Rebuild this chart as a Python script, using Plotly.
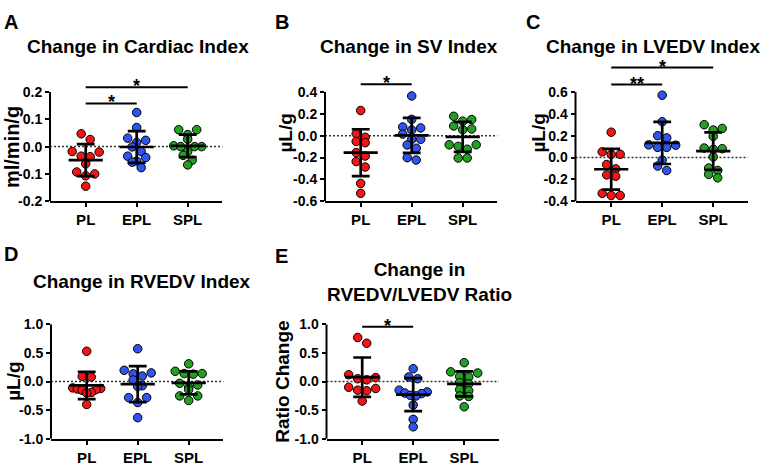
import numpy as np
import plotly.graph_objects as go

W, H = 770, 470
FONT = "Liberation Sans, Arial, Helvetica, sans-serif"

# ---------------- data ----------------
GROUPS = ["PL", "EPL", "SPL"]
GROUP_COLORS = ["#f41414", "#2f55ee", "#22a022"]

# A: Change in Cardiac Index (ml/min/g)
A_PL = [0.047, 0.026, -0.018, -0.020, -0.035, -0.037, -0.063, -0.093, -0.100, -0.107, -0.145]
A_EPL = [0.125, 0.070, 0.031, 0.023, 0.015, -0.001, -0.018, -0.035, -0.040, -0.053, -0.057, -0.077]
A_SPL = [0.062, 0.062, 0.044, 0.027, 0.003, 0.000, 0.000, 0.000, -0.018, -0.032, -0.050, -0.067]
A_YTICKS = [-0.2, -0.1, 0.0, 0.1, 0.2]
A_YTICKTEXT = ["-0.2", "-0.1", "0.0", "0.1", "0.2"]
A_SIG = [(0, 2, 0.218, "*"), (0, 1, 0.158, "*")]

# B: Change in SV Index (uL/g)
B_PL = [0.231, 0.018, -0.015, -0.053, -0.064, -0.155, -0.186, -0.237, -0.287, -0.437, -0.528]
B_EPL = [0.364, 0.150, 0.080, 0.071, 0.053, 0.015, -0.033, -0.033, -0.085, -0.115, -0.201, -0.223]
B_SPL = [0.178, 0.148, 0.133, 0.089, 0.062, 0.055, -0.083, -0.083, -0.098, -0.124, -0.204, -0.204]
B_YTICKS = [-0.6, -0.4, -0.2, 0.0, 0.2, 0.4]
B_YTICKTEXT = ["-0.6", "-0.4", "-0.2", "0.0", "0.2", "0.4"]
B_SIG = [(0, 1, 0.471, "*")]

# C: Change in LVEDV Index (uL/g)
C_PL = [0.232, 0.052, 0.029, 0.029, -0.064, -0.104, -0.159, -0.171, -0.328, -0.348, -0.348]
C_EPL = [0.571, 0.328, 0.200, 0.180, 0.116, 0.113, 0.093, 0.093, -0.023, -0.078, -0.119]
C_SPL = [0.301, 0.267, 0.252, 0.194, 0.087, 0.081, 0.075, 0.006, -0.096, -0.119, -0.154, -0.186]
C_YTICKS = [-0.4, -0.2, 0.0, 0.2, 0.4, 0.6]
C_YTICKTEXT = ["-0.4", "-0.2", "0.0", "0.2", "0.4", "0.6"]
C_SIG = [(0, 2, 0.824, "*"), (0, 1, 0.668, "**")]

# D: Change in RVEDV Index (uL/g)
D_PL = [0.53, 0.09, 0.08, -0.11, -0.12, -0.13, -0.14, -0.15, -0.19, -0.20, -0.40]
D_EPL = [0.574, 0.197, 0.152, 0.135, 0.096, 0.028, -0.073, -0.084, -0.28, -0.28, -0.366, -0.63]
D_SPL = [0.31, 0.18, 0.14, 0.14, 0.13, -0.03, -0.06, -0.10, -0.14, -0.25, -0.25, -0.33]
D_YTICKS = [-1.0, -0.5, 0.0, 0.5, 1.0]
D_YTICKTEXT = ["-1.0", "-0.5", "0.0", "0.5", "1.0"]
D_SIG = []

# E: Change in RVEDV/LVEDV Ratio
E_PL = [0.77, 0.67, 0.12, 0.07, 0.05, 0.03, -0.10, -0.12, -0.15, -0.16, -0.34]
E_EPL = [0.225, 0.08, 0.05, -0.15, -0.18, -0.20, -0.21, -0.24, -0.25, -0.41, -0.66, -0.79]
E_SPL = [0.33, 0.17, 0.15, 0.09, 0.08, -0.02, -0.04, -0.14, -0.16, -0.25, -0.26, -0.44]
E_YTICKS = [-1.0, -0.5, 0.0, 0.5, 1.0]
E_YTICKTEXT = ["-1.0", "-0.5", "0.0", "0.5", "1.0"]
E_SIG = [(0, 1, 0.96, "*")]

# ---------------- layout specs ----------------
panels = [
    dict(letter="A", title="Change in Cardiac Index", ytitle="ml/min/g",
         values=[A_PL, A_EPL, A_SPL], yticks=A_YTICKS, ytext=A_YTICKTEXT, sig=A_SIG,
         x0=50, tick_top=87, bottom=200, dom_top=72,
         title_xy=(137.5, 40), letter_xy=(10.5, 15), ytitle_xy=(12, 144), ytitle_size=20),
    dict(letter="B", title="Change in SV Index", ytitle="µL/g",
         values=[B_PL, B_EPL, B_SPL], yticks=B_YTICKS, ytext=B_YTICKTEXT, sig=B_SIG,
         x0=325, tick_top=87, bottom=200, dom_top=72,
         title_xy=(408.5, 40), letter_xy=(282, 15), ytitle_xy=(286, 130), ytitle_size=19),
    dict(letter="C", title="Change in LVEDV Index", ytitle="µL/g",
         values=[C_PL, C_EPL, C_SPL], yticks=C_YTICKS, ytext=C_YTICKTEXT, sig=C_SIG,
         x0=575.5, tick_top=87, bottom=200, dom_top=55,
         title_xy=(652.5, 40), letter_xy=(533, 15), ytitle_xy=(539, 130), ytitle_size=19),
    dict(letter="D", title="Change in RVEDV Index", ytitle="µL/g",
         values=[D_PL, D_EPL, D_SPL], yticks=D_YTICKS, ytext=D_YTICKTEXT, sig=D_SIG,
         x0=51, tick_top=327.5, bottom=446, dom_top=327.5,
         title_xy=(142, 283.5), letter_xy=(10.5, 255), ytitle_xy=(14, 387), ytitle_size=19),
    dict(letter="E", title="Change in<br>RVEDV/LVEDV Ratio", ytitle="Ratio Change",
         values=[E_PL, E_EPL, E_SPL], yticks=E_YTICKS, ytext=E_YTICKTEXT, sig=E_SIG,
         x0=326.5, tick_top=327.5, bottom=446, dom_top=327.5,
         title_xy=(420, 283.5), letter_xy=(281, 257), ytitle_xy=(283, 387), ytitle_size=19),
]

CAT_PX = 51.0
XR = [-0.7, 2.68]
AX_W = (XR[1] - XR[0]) * CAT_PX
MEAN_HALF = 0.335
CAP_HALF = 0.175


def swarm_offsets(vals, ppu, row_px=6.0, step_px=9.0, max_w=28.0):
    """GraphPad-like horizontal spreading of points that share a row."""
    order = sorted(range(len(vals)), key=lambda i: -vals[i])
    rows, cur = [], []
    for i in order:
        if cur and (vals[cur[0]] - vals[i]) * ppu >= row_px:
            rows.append(cur)
            cur = []
        cur.append(i)
    if cur:
        rows.append(cur)
    offs = [0.0] * len(vals)
    for row in rows:
        n = len(row)
        step = step_px if n < 2 else min(step_px, max_w / (n - 1))
        slots = [(k - (n - 1) / 2) * step for k in range(n)]
        slot_order = []
        lft, rgt = 0, n - 1
        while lft <= rgt:
            slot_order.append(lft)
            if lft != rgt:
                slot_order.append(rgt)
            lft += 1
            rgt -= 1
        for idx, s in zip(row, slot_order):
            offs[idx] = slots[s] / CAT_PX
    return offs


fig = go.Figure()
annotations = []
shapes = []
layout_axes = {}

for n, p in enumerate(panels, start=1):
    sfx = "" if n == 1 else str(n)
    xa, ya = "x" + sfx, "y" + sfx
    lo, hi = p["yticks"][0], p["yticks"][-1]
    ppu = (p["bottom"] - p["tick_top"]) / (hi - lo)
    hi_ext = hi + (p["tick_top"] - p["dom_top"]) / ppu

    for gi, (vals, col) in enumerate(zip(p["values"], GROUP_COLORS)):
        offs = swarm_offsets(vals, ppu)
        fig.add_trace(go.Scatter(
            x=[gi + o for o in offs], y=vals, mode="markers",
            marker=dict(size=8.5, color=col, line=dict(color="black", width=1)),
            xaxis=xa, yaxis=ya, showlegend=False, hoverinfo="skip", cliponaxis=False))

    for gi, vals in enumerate(p["values"]):
        m = float(np.mean(vals))
        sd = float(np.std(vals, ddof=1))
        xs = [gi - MEAN_HALF, gi + MEAN_HALF, None, gi, gi, None,
              gi - CAP_HALF, gi + CAP_HALF, None, gi - CAP_HALF, gi + CAP_HALF]
        ys = [m, m, None, m - sd, m + sd, None, m + sd, m + sd, None, m - sd, m - sd]
        fig.add_trace(go.Scatter(
            x=xs, y=ys, mode="lines", line=dict(color="black", width=2.7),
            xaxis=xa, yaxis=ya, showlegend=False, hoverinfo="skip"))

    layout_axes["xaxis" + sfx] = dict(
        domain=[p["x0"] / W, (p["x0"] + AX_W) / W], range=XR, anchor=ya,
        tickvals=[0, 1, 2], ticktext=GROUPS, showline=True, linewidth=2,
        linecolor="black", ticks="outside", ticklen=4, tickwidth=2, tickcolor="black",
        showgrid=False, zeroline=False, fixedrange=True,
        tickfont=dict(family=FONT, size=15, color="black", weight="bold"))
    layout_axes["yaxis" + sfx] = dict(
        domain=[1 - p["bottom"] / H, 1 - p["dom_top"] / H], range=[lo, hi_ext], anchor=xa,
        tickvals=p["yticks"], ticktext=p["ytext"], showline=False,
        ticks="outside", ticklen=4, tickwidth=2, tickcolor="black",
        showgrid=False, zeroline=False, fixedrange=True,
        tickfont=dict(family=FONT, size=14, color="black", weight="bold"))

    shapes.append(dict(type="line", xref=xa + " domain", x0=0, x1=0, yref=ya,
                       y0=lo, y1=hi, line=dict(color="black", width=2), layer="above"))
    shapes.append(dict(type="line", xref=xa + " domain", x0=0, x1=1, yref=ya,
                       y0=0, y1=0, line=dict(color="#333333", width=1.5, dash="2px,2px"),
                       layer="below"))
    for a, b, h, star in p["sig"]:
        shapes.append(dict(type="line", xref=xa, yref=ya, x0=a, x1=b, y0=h, y1=h,
                           line=dict(color="black", width=2), layer="above"))
        annotations.append(dict(x=(a + b) / 2, y=h, xref=xa, yref=ya, text="<b>" + star + "</b>",
                                showarrow=False, yanchor="middle", xanchor="center", yshift=1,
                                font=dict(family=FONT, size=18, color="black")))

    tx, ty = p["title_xy"]
    annotations.append(dict(x=tx / W, y=1 - ty / H, xref="paper", yref="paper",
                            text="<b>" + p["title"] + "</b>", showarrow=False,
                            xanchor="center", yanchor="middle",
                            font=dict(family=FONT, size=19, color="black")))
    lx, ly = p["letter_xy"]
    annotations.append(dict(x=lx / W, y=1 - ly / H, xref="paper", yref="paper",
                            text="<b>" + p["letter"] + "</b>", showarrow=False,
                            xanchor="center", yanchor="middle",
                            font=dict(family=FONT, size=20, color="black")))
    yx, yy = p["ytitle_xy"]
    annotations.append(dict(x=yx / W, y=1 - yy / H, xref="paper", yref="paper",
                            text="<b>" + p["ytitle"] + "</b>", showarrow=False, textangle=-90,
                            xanchor="center", yanchor="middle",
                            font=dict(family=FONT, size=p["ytitle_size"], color="black")))

fig.update_layout(
    width=W, height=H, autosize=False,
    margin=dict(l=0, r=0, t=0, b=0),
    paper_bgcolor="white", plot_bgcolor="white",
    showlegend=False, annotations=annotations, shapes=shapes,
    **layout_axes)

fig.write_html(
    "out.html",
    config={"displayModeBar": False, "staticPlot": True},
    post_script="document.body.style.margin='0';document.body.style.padding='0';"
                "document.body.style.overflow='hidden';",
)
